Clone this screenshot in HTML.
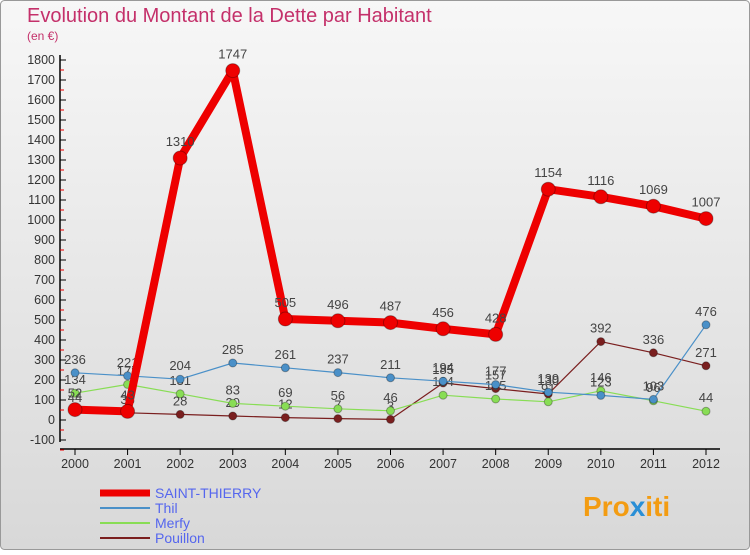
<!DOCTYPE html>
<html><head><meta charset="utf-8"><style>
body{margin:0;width:750px;height:550px;overflow:hidden;font-family:"Liberation Sans",sans-serif}
svg text{font-family:"Liberation Sans",sans-serif}
</style></head><body>
<svg id="c" width="750" height="550" xmlns="http://www.w3.org/2000/svg">
<defs><linearGradient id="bg" x1="0" y1="0" x2="0" y2="1"><stop offset="0" stop-color="#f7f7f7"/><stop offset="1" stop-color="#d8d8d8"/></linearGradient></defs>
<rect x="0.5" y="0.5" width="749" height="549" rx="4" fill="url(#bg)" stroke="#999"/>
<text x="27" y="22" font-size="20" fill="#c4306a">Evolution du Montant de la Dette par Habitant</text>
<text x="27" y="40" font-size="12" fill="#c4306a">(en €)</text>
<g id="axes"></g><g id="series"></g>
<text x="583" y="516" font-size="28" font-weight="bold" fill="#f39c12">Pro<tspan fill="#2a8fd6">x</tspan>iti</text>
</svg>
<script>
const years=["2000","2001","2002","2003","2004","2005","2006","2007","2008","2009","2010","2011","2012"];
const yTicks=[-100,0,100,200,300,400,500,600,700,800,900,1000,1100,1200,1300,1400,1500,1600,1700,1800];
const saint=[52,43,1310,1747,505,496,487,456,428,1154,1116,1069,1007];
const thil=[236,221,204,285,261,237,211,194,177,139,123,103,476];
const merfy=[134,178,131,83,69,56,46,124,105,91,146,96,44];
const pouillon=[44,36,28,20,12,7,3,185,157,130,392,336,271];
const NS="http://www.w3.org/2000/svg";
const xs=i=>75+i*(706-75)/12;
const ys=v=>420-v*0.2;
function mk(p,t,a){const e=document.createElementNS(NS,t);for(const k in a)e.setAttribute(k,a[k]);p.appendChild(e);return e;}
const ax=document.getElementById('axes');
const yl=mk(ax,'line',{x1:60,y1:55,x2:60,y2:442,stroke:'#000','stroke-width':1.5});


const xl=mk(ax,'line',{x1:60,y1:449,x2:720,y2:449,stroke:'#000','stroke-width':1.5});


yTicks.forEach(v=>{
  mk(ax,'line',{x1:60,y1:ys(v),x2:66,y2:ys(v),stroke:'#000'});
  mk(ax,'line',{x1:60,y1:ys(v)+10,x2:64,y2:ys(v)+10,stroke:'#e00'});
  const t=mk(ax,'text',{x:55,y:ys(v)+4,'font-size':12.5,fill:'#333','text-anchor':'end'});
  t.textContent=v;
  
  
});
years.forEach((y,i)=>{
  mk(ax,'line',{x1:xs(i),y1:449,x2:xs(i),y2:455,stroke:'#000'});
  const t=mk(ax,'text',{x:xs(i),y:468,'font-size':12.5,fill:'#333','text-anchor':'middle'});
  t.textContent=y;
  
  
});
const sg=document.getElementById('series');
function draw(name,data,color,w,r){
  const g=mk(sg,'g',{});
  
  
  const pl=mk(g,'polyline',{points:data.map((v,i)=>xs(i)+','+ys(v)).join(' '),fill:'none',stroke:color,'stroke-width':w,'stroke-linejoin':'round'});
  
  
  data.forEach((v,i)=>{
    const c=mk(g,'circle',{cx:xs(i),cy:ys(v),r:r,fill:color,stroke:'rgba(0,0,0,0.3)'});
    
    
    const t=mk(g,'text',{x:xs(i),y:ys(v)-r-5,'font-size':13,fill:'#444','text-anchor':'middle'});
    t.textContent=v;
    
    
  });
}
draw('pouillon',pouillon,'#7a1f1f',1.2,4);
draw('merfy',merfy,'#88dd55',1.2,4);
draw('thil',thil,'#4a90c8',1.2,4);
draw('saint-thierry',saint,'#ee0000',8,7);
const leg=[['SAINT-THIERRY','#ee0000',7,497],['Thil','#4a90c8',2,512],['Merfy','#88dd55',2,527],['Pouillon','#7a1f1f',2,542]];
leg.forEach(l=>{
  const g=mk(sg,'g',{});
  
  
  mk(g,'line',{x1:100,y1:l[3]-4,x2:150,y2:l[3]-4,stroke:l[1],'stroke-width':l[2]});
  const t=mk(g,'text',{x:155,y:l[3]+1,'font-size':14,fill:'#5566ee'});
  t.textContent=l[0];
});
</script>
</body></html>
